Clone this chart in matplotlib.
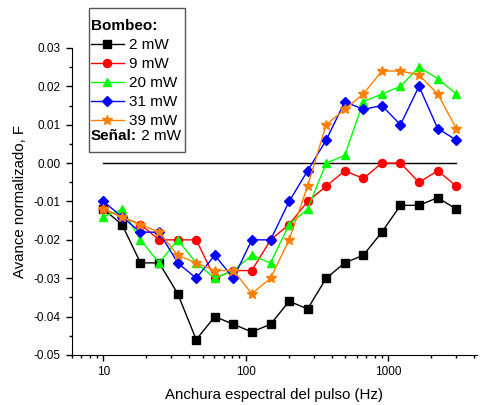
import matplotlib
matplotlib.use("Agg")
import matplotlib.pyplot as plt
from matplotlib.patches import Rectangle
from matplotlib.ticker import MultipleLocator, NullFormatter, LogLocator

plt.rcParams["font.family"] = ["Liberation Sans", "DejaVu Sans"]

# Anchura espectral (Hz)
freq = [10, 13.5, 18.2, 24.6, 33.2, 44.8, 60.5, 81.7, 110, 149,
        201, 271, 366, 494, 667, 900, 1215, 1640, 2220, 3000]

p2mW = [-0.012, -0.016, -0.026, -0.026, -0.034, -0.046, -0.040, -0.042, -0.044, -0.042,
        -0.036, -0.038, -0.030, -0.026, -0.024, -0.018, -0.011, -0.011, -0.009, -0.012]
p9mW = [-0.012, -0.014, -0.016, -0.020, -0.020, -0.020, -0.030, -0.028, -0.028, -0.020,
        -0.016, -0.010, -0.006, -0.002, -0.004, 0.000, 0.000, -0.005, -0.002, -0.006]
p20mW = [-0.014, -0.012, -0.020, -0.026, -0.020, -0.026, -0.030, -0.028, -0.024, -0.026,
         -0.016, -0.012, 0.000, 0.002, 0.016, 0.018, 0.020, 0.025, 0.022, 0.018]
p31mW = [-0.010, -0.014, -0.018, -0.018, -0.026, -0.030, -0.024, -0.030, -0.020, -0.020,
         -0.010, -0.002, 0.006, 0.016, 0.014, 0.015, 0.010, 0.020, 0.009, 0.006]
p39mW = [-0.012, -0.014, -0.016, -0.018, -0.024, -0.026, -0.028, -0.028, -0.034, -0.030,
         -0.020, -0.006, 0.010, 0.014, 0.018, 0.024, 0.024, 0.023, 0.018, 0.009]

fig = plt.figure(figsize=(4.82, 4.05), dpi=100)
ax = fig.add_axes([0.149, 0.1235, 0.841, 0.758])

ax.plot([freq[0], freq[-1]], [0, 0], color="black", lw=1)

series = [
    (p2mW, "2 mW", "black", "s", 5.2),
    (p9mW, "9 mW", "red", "o", 5.8),
    (p20mW, "20 mW", "#00ff00", "^", 6.2),
    (p31mW, "31 mW", "blue", "D", 4.8),
    (p39mW, "39 mW", "#ff8000", "*", 7.5),
]
handles = []
for vals, lab, col, mk, ms in series:
    h, = ax.plot(freq, vals, color=col, marker=mk, markersize=ms, lw=1,
                 markeredgecolor=col, label=lab)
    handles.append(h)

ax.set_xscale("log")
ax.set_xlim(6.0, 4200)
ax.set_ylim(-0.05, 0.03)
ax.yaxis.set_minor_locator(MultipleLocator(0.005))
ax.set_yticks([-0.05, -0.04, -0.03, -0.02, -0.01, 0.0, 0.01, 0.02, 0.03])
ax.set_yticklabels(["-0.05", "-0.04", "-0.03", "-0.02", "-0.01", "0.00", "0.01", "0.02", "0.03"])
ax.set_xticks([10, 100, 1000])
ax.set_xticklabels(["10", "100", "1000"])
ax.xaxis.set_minor_locator(LogLocator(base=10, subs=range(2, 10)))
ax.xaxis.set_minor_formatter(NullFormatter())

for s in ["top", "right"]:
    ax.spines[s].set_visible(False)
ax.tick_params(axis="both", which="major", direction="out", length=4.5, width=1, labelsize=8.5)
ax.tick_params(axis="both", which="minor", direction="out", length=2.5, width=1)

ax.set_xlabel("Anchura espectral del pulso (Hz)", fontsize=10.8, labelpad=7)
ax.set_ylabel("Avance normalizado, F", fontsize=10.8, labelpad=5)

# caja de la leyenda
box = Rectangle((89 / 482, 1 - 152 / 405), 96 / 482, 144 / 405, transform=fig.transFigure,
                facecolor="white", edgecolor="#555555", lw=1, zorder=9, clip_on=False)
ax.add_artist(box)

leg = ax.legend(handles, [h.get_label() for h in handles],
                loc="upper left", bbox_to_anchor=(90.5 / 482, 1 - 19 / 405),
                bbox_transform=fig.transFigure, title="Bombeo:",
                title_fontproperties={"weight": "bold", "size": 11},
                alignment="left", fontsize=11, frameon=False,
                handlelength=2.2, handletextpad=0.3, labelspacing=0.33,
                borderpad=0, borderaxespad=0, numpoints=1)
leg.set_zorder(10)

t1 = fig.text(91 / 482, 1 - 136 / 405, "Señal:", fontsize=11, weight="bold",
              ha="left", va="center", zorder=11)
fig.canvas.draw()
tb = t1.get_window_extent().transformed(fig.transFigure.inverted())
fig.text(tb.x1, 1 - 136 / 405, " 2 mW", fontsize=11, ha="left", va="center", zorder=11)

fig.savefig("out.png", dpi=100)
